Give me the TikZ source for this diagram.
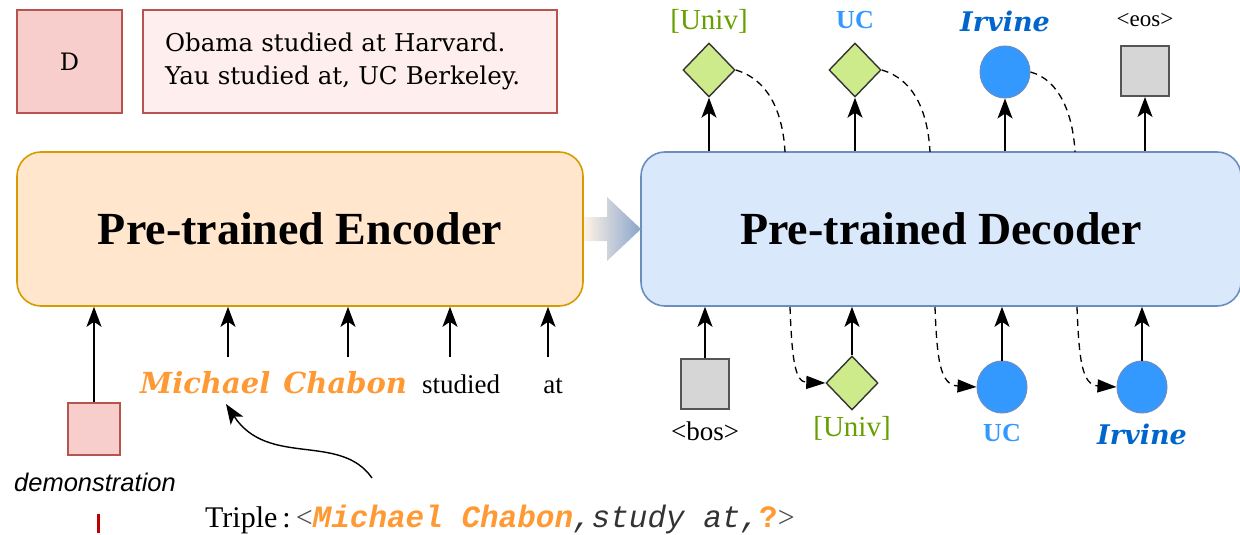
\documentclass[tikz,border=0pt]{standalone}
\usepackage{fontspec}
\setmainfont{Liberation Serif}
\setsansfont{Liberation Sans}
\setmonofont{Liberation Mono}
\newfontfamily\wideserif{DejaVu Serif}
\usetikzlibrary{arrows.meta,shapes.geometric}
\definecolor{pinkfill}{HTML}{F8CECC}
\definecolor{pinklight}{HTML}{FFEEEE}
\definecolor{pinkline}{HTML}{B85450}
\definecolor{encfill}{HTML}{FFE6CC}
\definecolor{encline}{HTML}{D79B00}
\definecolor{decfill}{HTML}{DAE8FC}
\definecolor{decline}{HTML}{6C8EBF}
\definecolor{orangetxt}{HTML}{FF9933}
\definecolor{greenfill}{HTML}{CDEB8B}
\definecolor{greentxt}{HTML}{66A000}
\definecolor{bluefill}{HTML}{3399FF}
\definecolor{bluetxt}{HTML}{3399FF}
\definecolor{darkblue}{HTML}{0066CC}
\definecolor{grayfill}{HTML}{D6D6D6}
\definecolor{grayline}{HTML}{555555}
\begin{document}
\begin{tikzpicture}[x=1pt,y=-1pt,
  up/.style={-{Stealth[length=20pt,width=15pt,inset=5pt]},line width=1.4pt},
  feedback/.style={line width=1.3pt,dash pattern=on 7pt off 5pt},
  feedbackarrow/.style={line width=1.3pt,dash pattern=on 7pt off 5pt,-{Triangle[length=19pt,width=13pt]}},
  pinkbox/.style={draw=pinkline,line width=1.4pt,fill=pinkfill,minimum width=52pt,minimum height=52pt,inner sep=0},
  diam/.style={diamond,draw=black!80,line width=1.4pt,fill=greenfill,minimum width=52pt,minimum height=54pt,inner sep=0},
  circ/.style={ellipse,draw=decline,line width=1pt,fill=bluefill,minimum width=50pt,minimum height=52pt,inner sep=0},
  sq/.style={draw=grayline,line width=2pt,fill=grayfill,minimum width=48pt,minimum height=50pt,inner sep=0},
  model/.style={rounded corners=24pt,line width=1.6pt,minimum height=154pt,font=\bfseries\fontsize{46}{52}\selectfont},
  greenlbl/.style={font=\fontsize{29}{32}\selectfont,text=greentxt},
  uclbl/.style={font=\bfseries\fontsize{26}{30}\selectfont,text=bluetxt},
  irvlbl/.style={font=\wideserif\bfseries\itshape\fontsize{27}{30}\selectfont,text=darkblue},
  toklbl/.style={font=\fontsize{23}{26}\selectfont}]
\useasboundingbox (0,0) rectangle (1240,535);

% demonstration store and example sentences
\node[draw=pinkline,line width=1.4pt,fill=pinkfill,minimum width=105pt,minimum height=103pt,font=\wideserif\fontsize{24}{28}\selectfont] (D) at (69.5,61.5) {D};
\node[draw=pinkline,line width=1.4pt,fill=pinklight,minimum width=414pt,minimum height=103pt,align=left,font=\wideserif\fontsize{24.5}{33}\selectfont,text width=370pt,inner xsep=22pt] (ex) at (350,61.5)
  {Obama studied at Harvard.\\Yau studied at, UC Berkeley.};

% encoder and decoder
\node[model,draw=encline,fill=encfill,minimum width=566pt] (enc) at (300,229) {Pre-trained Encoder};
\node[model,draw=decline,fill=decfill,minimum width=600pt] (dec) at (941,229) {Pre-trained Decoder};

% hand-over arrow between the two models
\shade[left color=encfill!50!white,right color=decline!80] (584,217) -- (607,217) -- (607,197) -- (641,229) -- (607,261) -- (607,241) -- (584,241) -- cycle;

% encoder inputs
\node[font=\wideserif\bfseries\itshape\fontsize{29}{34}\selectfont,text=orangetxt,anchor=base west,inner sep=0] (mc) at (140,393) {Michael\hspace{0.45em}Chabon};
\node[font=\fontsize{27}{32}\selectfont,anchor=base,inner sep=0] (studied) at (461,393) {studied};
\node[font=\fontsize{27}{32}\selectfont,anchor=base,inner sep=0] (at) at (553,393) {at};
\node[pinkbox] (demo) at (94,429) {};
\node[font=\sffamily\itshape\fontsize{25.5}{28}\selectfont] (demolbl) at (95,482) {demonstration};

\coordinate (m1) at (228,357);
\coordinate (m2) at (348,357);
\coordinate (s1) at (450,357);
\coordinate (a1) at (548,357);
\draw[up] (demo.north) -- (demo.north |- enc.south);
\draw[up] (m1) -- (m1 |- enc.south);
\draw[up] (m2) -- (m2 |- enc.south);
\draw[up] (s1) -- (s1 |- enc.south);
\draw[up] (a1) -- (a1 |- enc.south);

% query triple
\node[anchor=base west,inner sep=0,font=\fontsize{30}{34}\selectfont] (triple) at (205,527)
  {Triple\,:\,\textcolor{black!70}{<}{\fontsize{31}{34}\selectfont\ttfamily\textcolor{orangetxt}{\bfseries\itshape Michael Chabon}\textcolor{black!80}{\itshape ,study at,}\textcolor{orangetxt}{\bfseries ?}}\textcolor{black!70}{>}};
\coordinate (tstart) at (372,478);
\coordinate (ttip) at (226,404);
\draw[line width=1.4pt,-{Stealth[length=20pt,width=15pt,inset=5pt]}] (tstart) .. controls (340,432) and (268,468) .. (ttip);

% cursor mark
\draw[draw=red!75!black,line width=3pt] (98,514) -- (98,533);

% decoder outputs
\node[diam] (o1) at (709,70) {};
\node[diam] (o2) at (855,70) {};
\node[circ] (o3) at (1005,72) {};
\node[sq] (o4) at (1145,71) {};
\node[greenlbl] (o1l) at (709,21) {[Univ]};
\node[uclbl] (o2l) at (855,20) {UC};
\node[irvlbl] (o3l) at (1005,21) {Irvine};
\node[toklbl] (o4l) at (1145,20) {<eos>};
\foreach \o in {o1,o2,o3,o4} \draw[up] (\o |- dec.north) -- (\o.south);

\coordinate (t1) at (785,152);
\coordinate (t2) at (930,152);
\coordinate (t3) at (1075,152);
\draw[feedback] (o1.east) .. controls (770,80) and (783,115) .. (t1);
\draw[feedback] (o2.east) .. controls (916,80) and (928,115) .. (t2);
\draw[feedback] (o3.east) .. controls (1060,80) and (1073,115) .. (t3);

% decoder inputs
\node[sq] (i0) at (705,384) {};
\node[diam] (i1) at (852,383) {};
\node[circ] (i2) at (1002,387) {};
\node[circ] (i3) at (1142,387) {};
\node[toklbl,font=\fontsize{27}{30}\selectfont] (i0l) at (705,431) {<bos>};
\node[greenlbl] (i1l) at (852,428) {[Univ]};
\node[uclbl] (i2l) at (1002,433) {UC};
\node[irvlbl] (i3l) at (1142,434) {Irvine};
\foreach \i in {i0,i1,i2,i3} \draw[up] (\i.north) -- (\i |- dec.south);

\coordinate (b1) at (790,307);
\coordinate (b2) at (935,307);
\coordinate (b3) at (1077,307);
\draw[feedbackarrow] (b1) .. controls (792,360) and (795,382) .. (i1.west);
\draw[feedbackarrow] (b2) .. controls (937,360) and (940,385) .. (i2.west);
\draw[feedbackarrow] (b3) .. controls (1079,360) and (1082,385) .. (i3.west);
\end{tikzpicture}
\end{document}
